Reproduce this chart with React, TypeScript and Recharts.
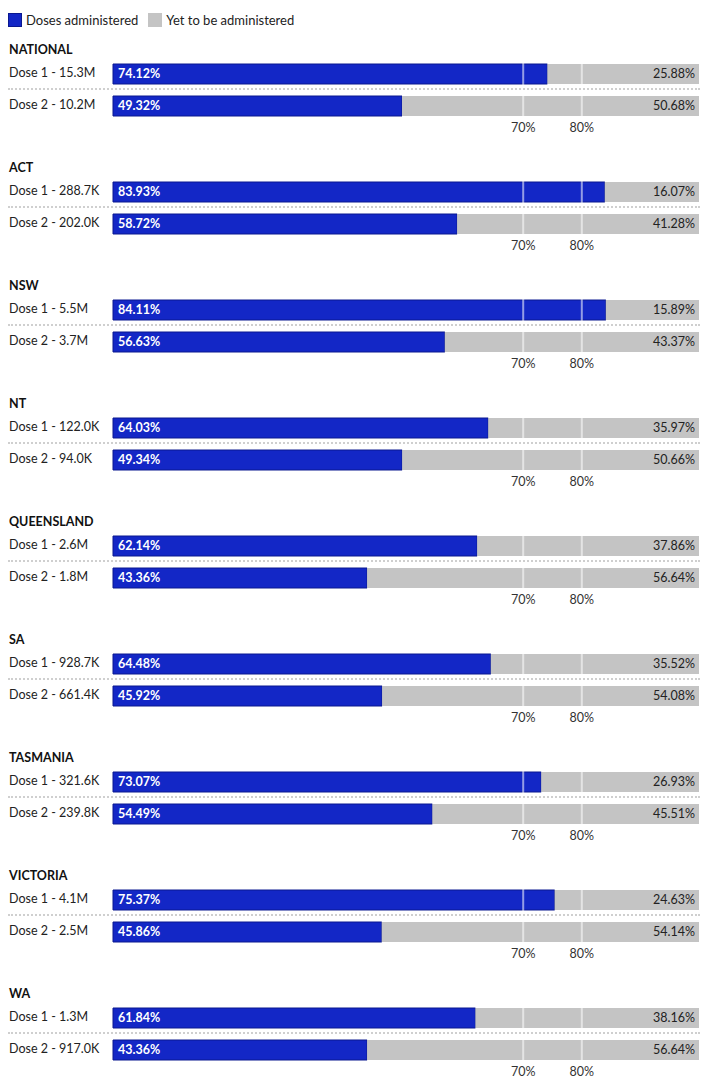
import React from 'react';
import { BarChart, Bar, XAxis, YAxis, ReferenceLine, LabelList } from 'recharts';

const regions = ['NATIONAL', 'ACT', 'NSW', 'NT', 'QUEENSLAND', 'SA', 'TASMANIA', 'VICTORIA', 'WA'];
const dose1Counts = ['15.3M', '288.7K', '5.5M', '122.0K', '2.6M', '928.7K', '321.6K', '4.1M', '1.3M'];
const dose2Counts = ['10.2M', '202.0K', '3.7M', '94.0K', '1.8M', '661.4K', '239.8K', '2.5M', '917.0K'];
const dose1Given = [74.12, 83.93, 84.11, 64.03, 62.14, 64.48, 73.07, 75.37, 61.84];
const dose1Left = [25.88, 16.07, 15.89, 35.97, 37.86, 35.52, 26.93, 24.63, 38.16];
const dose2Given = [49.32, 58.72, 56.63, 49.34, 43.36, 45.92, 54.49, 45.86, 43.36];
const dose2Left = [50.68, 41.28, 43.37, 50.66, 56.64, 54.08, 45.51, 54.14, 56.64];
const axisTicks = [70, 80];

const BLUE = '#1327c6';
const GREY = '#c4c4c4';
const FONT = 'Lato, "Open Sans", sans-serif';

const DoseTick = (props: any) => {
  const { y, payload } = props;
  return (
    <text x={1} y={y} dy={3} fill="#222" fontSize={12.5} textAnchor="start">
      {payload.value}
    </text>
  );
};

const pct = (v: any) => `${Number(v).toFixed(2)}%`;

const RegionChart = ({ i }: { i: number }) => {
  const data = [
    { dose: `Dose 1 - ${dose1Counts[i]}`, given: dose1Given[i], left: dose1Left[i] },
    { dose: `Dose 2 - ${dose2Counts[i]}`, given: dose2Given[i], left: dose2Left[i] },
  ];
  return (
    <div style={{ marginBottom: 24 }}>
      <div style={{ height: 16, lineHeight: '16px', fontWeight: 700, fontSize: 12.5, color: '#111', paddingLeft: 1 }}>
        {regions[i]}
      </div>
      <div style={{ position: 'relative', width: 691, height: 78 }}>
        <BarChart
          width={691}
          height={78}
          data={data}
          layout="vertical"
          margin={{ top: 0, right: 0, bottom: 0, left: 0 }}
          barCategoryGap={6}
        >
          <XAxis
            type="number"
            domain={[0, 100]}
            ticks={axisTicks}
            tickFormatter={(v: number) => `${v}%`}
            axisLine={false}
            tickLine={false}
            tickSize={0}
            tickMargin={0}
            height={14}
            tick={{ fill: '#333', fontSize: 12.5, dy: 1 }}
          />
          <YAxis type="category" dataKey="dose" width={105} axisLine={false} tickLine={false} tick={<DoseTick />} />
          <Bar dataKey="given" stackId="a" fill={BLUE} stroke="#0a1890" strokeWidth={1} barSize={20} isAnimationActive={false}>
            <LabelList dataKey="given" position="insideLeft" offset={5} formatter={pct} fill="#fff" fontSize={12.5} fontWeight={700} />
          </Bar>
          <Bar dataKey="left" stackId="a" fill={GREY} barSize={20} isAnimationActive={false}>
            <LabelList dataKey="left" position="insideRight" offset={4} formatter={pct} fill="#222" fontSize={12.5} />
          </Bar>
          {axisTicks.map((t) => (
            <ReferenceLine key={t} x={t} stroke="rgba(255,255,255,0.55)" strokeWidth={2} />
          ))}
        </BarChart>
        <div style={{ position: 'absolute', left: 0, top: 30, width: 692, borderTop: '2px dotted #cfcfcf' }} />
      </div>
    </div>
  );
}

export default function App() {
  return (
    <div style={{ fontFamily: FONT, width: 702, background: '#fff' }}>
      <div style={{ display: 'flex', alignItems: 'center', height: 24, marginBottom: 10, fontSize: 13, color: '#222' }}>
        <span style={{ width: 14, height: 14, background: BLUE, border: '1px solid #0a1890', boxSizing: 'border-box', marginRight: 4 }} />
        <span style={{ marginRight: 10 }}>Doses administered</span>
        <span style={{ width: 14, height: 14, background: GREY, marginRight: 4 }} />
        <span>Yet to be administered</span>
      </div>
      {regions.map((r, i) => (
        <RegionChart key={r} i={i} />
      ))}
    </div>
  );
}
